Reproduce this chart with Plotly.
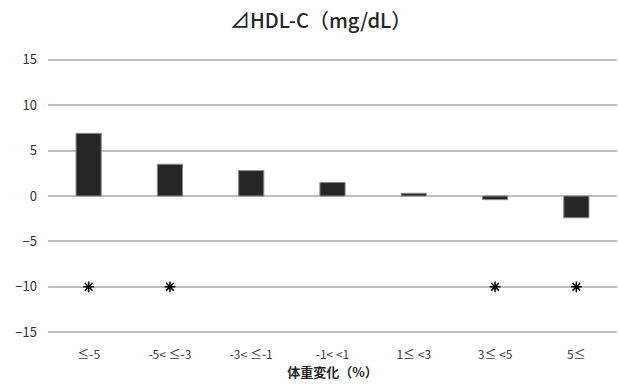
import plotly.graph_objects as go

categories = ["≤-5", "-5< ≤-3", "-3< ≤-1", "-1< <1", "1≤ <3", "3≤ <5", "5≤"]
delta_hdl = [6.9, 3.5, 2.8, 1.5, 0.3, -0.4, -2.4]
significant = [True, True, False, False, False, True, True]
marker_level = -10

FONT = "Noto Sans CJK JP"

fig = go.Figure()
fig.add_trace(go.Bar(
    x=categories, y=delta_hdl, width=0.31,
    marker=dict(color="#262626", line=dict(color="#8c8c8c", width=1)),
    showlegend=False, hoverinfo="skip",
))
sig_x = [c for c, s in zip(categories, significant) if s]
fig.add_trace(go.Scatter(
    x=sig_x, y=[marker_level] * len(sig_x), mode="markers",
    marker=dict(symbol="asterisk-open", size=9, color="#000000",
                line=dict(color="#000000", width=1.5)),
    showlegend=False, hoverinfo="skip",
))

fig.update_layout(
    width=619, height=385,
    margin=dict(l=48, r=2, t=58, b=51),
    paper_bgcolor="white", plot_bgcolor="white",
    font=dict(family=FONT, color="#404040", size=12),
    title=dict(text="⊿HDL-C（mg/dL）", x=0.518, xanchor="center", y=0.945, yanchor="middle",
               font=dict(family=FONT, size=20, color="#262626", weight=500)),
    bargap=0.69,
)
fig.update_xaxes(
    showgrid=False, showline=False, ticks="", tickfont=dict(size=12, color="#404040"),
    ticklabelstandoff=12,
    title=dict(text="<b>体重変化（%）</b>", standoff=6, font=dict(size=13, color="#262626")),
)
fig.update_yaxes(
    range=[-15.2, 15.2], dtick=5, tick0=0, showgrid=True, gridcolor="#bfbfbf", gridwidth=1.5,
    zeroline=True, zerolinecolor="#bfbfbf", zerolinewidth=1.5, showline=False,
    tickfont=dict(size=13, color="#333333"), ticklabelstandoff=10,
)

fig.write_html("out.html")
